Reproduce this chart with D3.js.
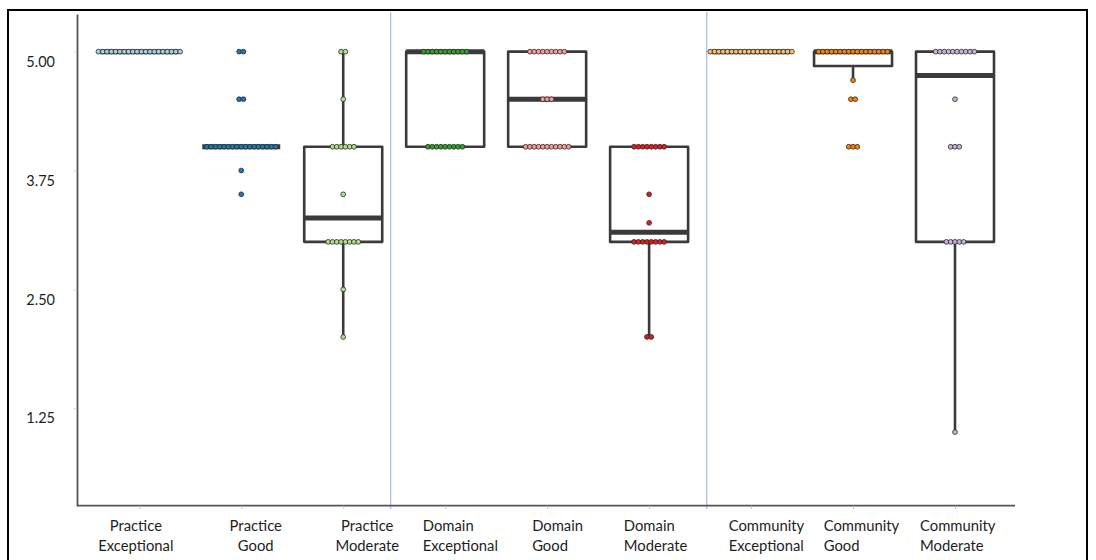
<!DOCTYPE html>
<html>
<head>
<meta charset="utf-8">
<script src="https://cdn.jsdelivr.net/npm/d3@7"></script>
<style>
  html, body { margin: 0; padding: 0; background: #fff; }
  svg { display: block; font-family: Lato, "Open Sans", sans-serif; }
</style>
</head>
<body>
<svg id="chart" width="1096" height="560"></svg>
<script>
// Groups shown along the x axis
const categories = [
  "Practice Exceptional", "Practice Good", "Practice Moderate",
  "Domain Exceptional", "Domain Good", "Domain Moderate",
  "Community Exceptional", "Community Good", "Community Moderate"
];
const labelLines = [
  ["Practice", "Exceptional"], ["Practice", "Good"], ["Practice", "Moderate"],
  ["Domain", "Exceptional"], ["Domain", "Good"], ["Domain", "Moderate"],
  ["Community", "Exceptional"], ["Community", "Good"], ["Community", "Moderate"]
];
// Paired palette, one colour per group
const colors = ["#a6cee3", "#1f78b4", "#b2df8a", "#33a02c", "#fb9a99", "#e31a1c", "#fdbf6f", "#ff7f00", "#cab2d6"];

// Individual scores per group
const practiceExceptional = [5,5,5,5,5,5,5,5,5,5,5,5,5,5,5,5,5,5,5,5];
const practiceGood = [5,5,4.5,4.5,4,4,4,4,4,4,4,4,4,4,4,4,4,4,4,4,4,3.75,3.5];
const practiceModerate = [5,5,4.5,4,4,4,4,4,4,3.5,3,3,3,3,3,3,3,3,2.5,2];
const domainExceptional = [5,5,5,5,5,5,5,5,5,5,5,4,4,4,4,4,4,4,4,4];
const domainGood = [5,5,5,5,5,5,5,5,5,4.5,4.5,4.5,4,4,4,4,4,4,4,4,4,4,4];
const domainModerate = [4,4,4,4,4,4,4,4,3.5,3.2,3,3,3,3,3,3,3,3,2,2];
const communityExceptional = [5,5,5,5,5,5,5,5,5,5,5,5,5,5,5,5,5,5,5,5];
const communityGood = [5,5,5,5,5,5,5,5,5,5,5,5,5,5,5,5,5,4.7,4.5,4.5,4,4,4];
const communityModerate = [5,5,5,5,5,5,5,5,5,5,4.5,4,4,4,3,3,3,3,3,1];

const seriesValues = [
  practiceExceptional, practiceGood, practiceModerate,
  domainExceptional, domainGood, domainModerate,
  communityExceptional, communityGood, communityModerate
];
const yTicks = [1.25, 2.5, 3.75, 5];

// ---- layout ----
const svg = d3.select("#chart");
const y = d3.scaleLinear().domain([0.226, 5.396]).range([505.7, 14]);
const x = d3.scalePoint().domain(categories).range([139.3, 955]);
const axisX0 = 77, axisX1 = 1015;
const boxW = 78, dotGap = 4.3, dotR = 2.4;
const boxColor = "#3a3a3a";

// label placement under each tick: [text-anchor, dx]
const labelPlace = [
  ["middle", -3.5], ["middle", 14.5], ["middle", 24],
  ["start", -22.4], ["start", -15], ["start", -25.3],
  ["start", -22.4], ["start", -29.3], ["start", -35]
];

// outer frame
const frame = svg.append("g").attr("stroke", "#000").attr("stroke-width", 2).attr("fill", "none");
frame.append("path").attr("d", "M8,562 L8,10 L1087,10 L1087,562");

// group separators
const sepAfter = [[2, 0.465], [5, 0.565]];
svg.append("g").selectAll("line").data(sepAfter).join("line")
  .attr("x1", d => x(categories[d[0]]) + d[1] * x.step())
  .attr("x2", d => x(categories[d[0]]) + d[1] * x.step())
  .attr("y1", 12).attr("y2", 509)
  .attr("stroke", "#a9b9ea").attr("stroke-width", 1.2);

// y axis
const yAxis = svg.append("g").attr("transform", `translate(${axisX0},0)`)
  .call(d3.axisLeft(y).tickValues(yTicks).tickSize(3).tickSizeOuter(0).tickFormat(d3.format(".2f")));
yAxis.select(".domain").attr("stroke", "#555").attr("stroke-width", 1.8);
yAxis.selectAll(".tick line").attr("stroke", "#ccc").attr("stroke-width", 1);
yAxis.selectAll(".tick text")
  .attr("x", -22).attr("y", 10).attr("dy", "0.32em")
  .attr("fill", "#1e1e1e").attr("font-size", 14.5)
  .attr("font-family", "Lato, 'Open Sans', sans-serif");

// x axis
svg.append("line").attr("x1", axisX0).attr("x2", axisX1)
  .attr("y1", y.range()[0]).attr("y2", y.range()[0])
  .attr("stroke", "#555").attr("stroke-width", 1.8);
const xAxis = svg.append("g").attr("transform", `translate(0,${y.range()[0]})`)
  .call(d3.axisBottom(x).tickSize(3).tickSizeOuter(0).tickFormat(""));
xAxis.select(".domain").remove();
xAxis.selectAll(".tick line").attr("stroke", "#bbb");

// category labels
const labels = svg.append("g").attr("fill", "#1e1e1e").attr("font-size", 14.8);
categories.forEach((c, i) => {
  const t = labels.append("text")
    .attr("text-anchor", labelPlace[i][0])
    .attr("transform", `translate(${x(c) + labelPlace[i][1]},0)`);
  labelLines[i].forEach((line, j) => {
    t.append("tspan").attr("x", 0).attr("y", 531 + j * 19.5).text(line);
  });
});

// boxes, whiskers and dots
const plot = svg.append("g");
categories.forEach((c, i) => {
  const vals = seriesValues[i].slice().sort(d3.ascending);
  const q1 = d3.quantile(vals, 0.25);
  const med = d3.quantile(vals, 0.5);
  const q3 = d3.quantile(vals, 0.75);
  const iqr = q3 - q1;
  const lo = d3.min(vals.filter(v => v >= q1 - 1.5 * iqr));
  const hi = d3.max(vals.filter(v => v <= q3 + 1.5 * iqr));
  const cx = x(c);
  const g = plot.append("g");

  if (lo < q1) g.append("line").attr("x1", cx).attr("x2", cx).attr("y1", y(q1)).attr("y2", y(lo))
    .attr("stroke", boxColor).attr("stroke-width", 2.6);
  if (hi > q3) g.append("line").attr("x1", cx).attr("x2", cx).attr("y1", y(q3)).attr("y2", y(hi))
    .attr("stroke", boxColor).attr("stroke-width", 2.6);

  g.append("rect")
    .attr("x", cx - boxW / 2).attr("width", boxW)
    .attr("y", y(q3)).attr("height", y(q1) - y(q3))
    .attr("fill", "none").attr("stroke", boxColor).attr("stroke-width", 2.6)
    .attr("stroke-linejoin", "round");
  g.append("line")
    .attr("x1", cx - boxW / 2).attr("x2", cx + boxW / 2)
    .attr("y1", y(med)).attr("y2", y(med))
    .attr("stroke", boxColor).attr("stroke-width", 5);

  // dots: one row per distinct score, centred on the category
  const rows = d3.rollups(vals, v => v.length, v => v);
  const pts = [];
  rows.forEach(([v, n]) => {
    for (let k = 0; k < n; k++) pts.push({ v, off: (k - (n - 1) / 2) * dotGap });
  });
  g.selectAll("circle").data(pts).join("circle")
    .attr("cx", d => cx + d.off).attr("cy", d => y(d.v))
    .attr("r", dotR)
    .attr("fill", colors[i])
    .attr("stroke", "#2a2a2a").attr("stroke-width", 0.8);
});
</script>
</body>
</html>
